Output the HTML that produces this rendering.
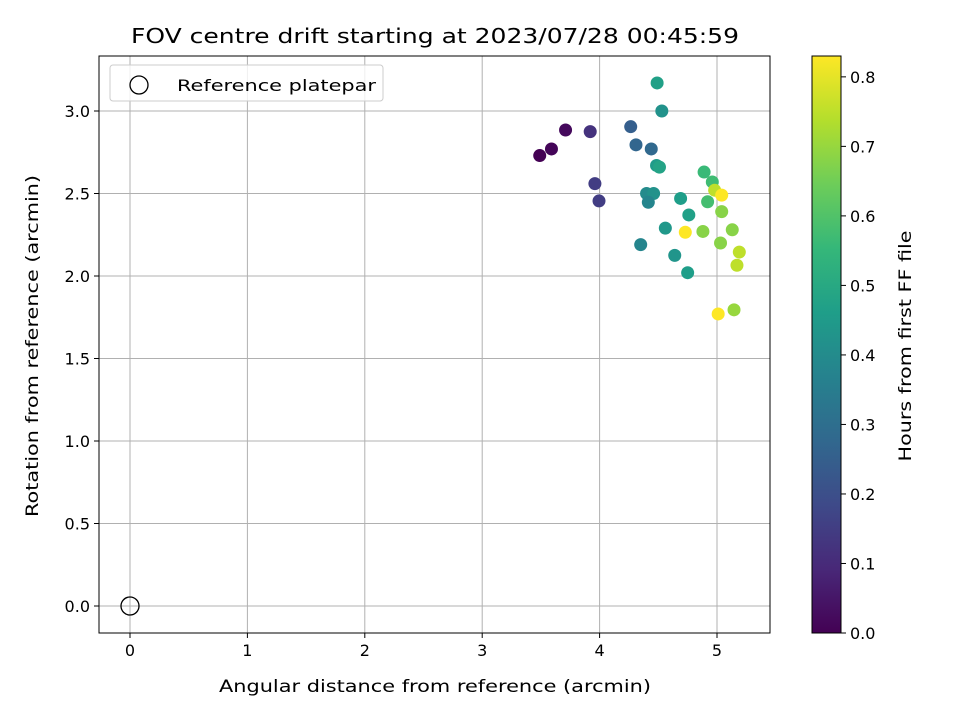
<!DOCTYPE html>
<html><head><meta charset="utf-8"><style>
body{margin:0;background:#fff;}
svg text{font-family:"DejaVu Sans","Liberation Sans",sans-serif;fill:#000;}
</style></head><body>
<svg id="chart" width="960" height="720" xmlns="http://www.w3.org/2000/svg"></svg>
<script>
const xs=[3.49,3.59,3.71,3.92,3.96,3.995,4.265,4.31,4.44,4.49,4.53,4.485,4.51,4.40,4.46,4.415,4.69,4.76,4.56,4.35,4.64,4.75,4.73,4.88,4.89,4.96,4.98,5.04,4.92,5.04,5.13,5.03,5.19,5.17,5.01,5.145];
const ys=[2.73,2.77,2.885,2.875,2.56,2.455,2.905,2.795,2.77,3.17,3.00,2.67,2.66,2.50,2.50,2.447,2.47,2.37,2.29,2.19,2.125,2.02,2.265,2.27,2.63,2.57,2.52,2.49,2.45,2.39,2.28,2.20,2.145,2.065,1.77,1.795];
const hours=[0.0,0.01,0.02,0.12,0.15,0.15,0.25,0.27,0.28,0.47,0.42,0.45,0.48,0.40,0.42,0.38,0.46,0.47,0.44,0.38,0.43,0.46,0.83,0.68,0.56,0.57,0.75,0.83,0.58,0.68,0.68,0.68,0.75,0.75,0.83,0.70];
const xTicks=[0,1,2,3,4,5];
const yTicks=[0.0,0.5,1.0,1.5,2.0,2.5,3.0];
const cTicks=[0.0,0.1,0.2,0.3,0.4,0.5,0.6,0.7,0.8];
const L=99,R=770,T=56,B=633;
const X=v=>130+v*117.4, Y=v=>606-v*165;
const cMax=0.83, C=v=>633-v*(577/cMax);
const vir=[[68,1,84],[72,40,120],[62,74,137],[49,104,142],[38,130,142],[31,158,137],[53,183,121],[109,205,89],[180,222,44],[253,231,37]];
function col(t){t=Math.max(0,Math.min(1,t))*9;const i=Math.min(8,Math.floor(t)),f=t-i;const a=vir[i],b=vir[i+1];return `rgb(${a.map((v,k)=>Math.round(v+(b[k]-v)*f)).join(',')})`;}
const svg=document.getElementById('chart');const NS='http://www.w3.org/2000/svg';
function el(tag,attrs,name,txt){const e=document.createElementNS(NS,tag);for(const k in attrs)e.setAttribute(k,attrs[k]);


if(txt!==undefined)e.textContent=txt;svg.appendChild(e);return e;}
el('text',{x:435,y:43,'font-size':20,'text-anchor':'middle',textLength:608,lengthAdjust:'spacingAndGlyphs'},'chart-title','FOV centre drift starting at 2023/07/28 00:45:59');
xTicks.forEach(v=>{el('line',{x1:X(v),x2:X(v),y1:T,y2:B,stroke:'#b0b0b0','stroke-width':1},'x-gridline');
el('line',{x1:X(v),x2:X(v),y1:B,y2:B+5,stroke:'#000'},'x-tick');
el('text',{x:X(v),y:B+23,'font-size':16,'text-anchor':'middle'},'x-tick-label',String(v));});
yTicks.forEach(v=>{el('line',{x1:L-5,x2:L,y1:Y(v),y2:Y(v),stroke:'#000'},'y-tick');
el('line',{x1:L,x2:R,y1:Y(v),y2:Y(v),stroke:'#b0b0b0','stroke-width':1},'y-gridline');
el('text',{x:L-9,y:Y(v)+6,'font-size':16,'text-anchor':'end'},'y-tick-label',v.toFixed(1));});
xs.forEach((v,i)=>{el('circle',{cx:X(v),cy:Y(ys[i]),r:6.5,fill:col(hours[i]/cMax)},'drift-point');});
el('circle',{cx:X(0),cy:Y(0),r:9,fill:'none',stroke:'#000','stroke-width':1.3},'reference-platepar-marker');
el('rect',{x:L,y:T,width:R-L,height:B-T,fill:'none',stroke:'#000','stroke-width':1},'plot-frame');
el('rect',{x:110,y:65,width:273,height:36,rx:3,fill:'#fff','fill-opacity':0.8,stroke:'#ccc'},'legend-box');
el('circle',{cx:139,cy:85,r:9,fill:'none',stroke:'#000','stroke-width':1.3},'legend-marker');
el('text',{x:177,y:91,'font-size':16,textLength:199,lengthAdjust:'spacingAndGlyphs'},'legend-label','Reference platepar');
el('text',{x:435,y:692,'font-size':17,'text-anchor':'middle',textLength:432,lengthAdjust:'spacingAndGlyphs'},'x-axis-title','Angular distance from reference (arcmin)');
el('text',{x:38,y:346,'font-size':17,'text-anchor':'middle',textLength:342,lengthAdjust:'spacingAndGlyphs',transform:'rotate(-90 38 346)'},'y-axis-title','Rotation from reference (arcmin)');
const defs=el('defs',{},'colorbar-defs');const g=document.createElementNS(NS,'linearGradient');g.setAttribute('id','vg');g.setAttribute('x1','0');g.setAttribute('y1','1');g.setAttribute('x2','0');g.setAttribute('y2','0');
vir.forEach((c,i)=>{const s=document.createElementNS(NS,'stop');s.setAttribute('offset',i/9);s.setAttribute('stop-color',`rgb(${c})`);g.appendChild(s);});defs.appendChild(g);
el('rect',{x:812,y:56,width:29,height:577,fill:'url(#vg)',stroke:'#000','stroke-width':1},'colorbar');
cTicks.forEach(v=>{el('line',{x1:841,x2:846,y1:C(v),y2:C(v),stroke:'#000'},'colorbar-tick');
el('text',{x:850,y:C(v)+6,'font-size':16},'colorbar-tick-label',v.toFixed(1));});
el('text',{x:911,y:346,'font-size':17,'text-anchor':'middle',textLength:231,lengthAdjust:'spacingAndGlyphs',transform:'rotate(-90 911 346)'},'colorbar-title','Hours from first FF file');
</script></body></html>
